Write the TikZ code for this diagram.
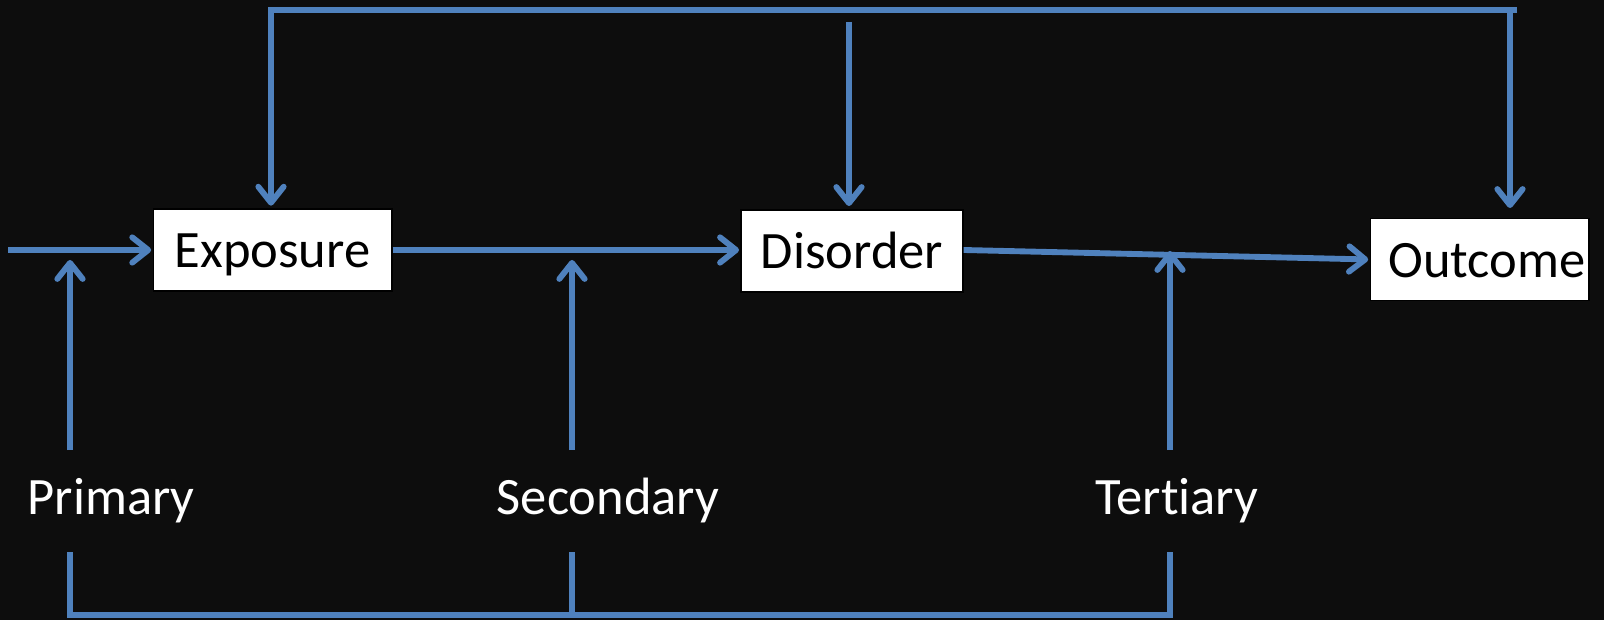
\documentclass[tikz,border=0pt]{standalone}
\usepackage{fontspec}
\setmainfont{Carlito}[Ligatures=NoCommon]
\usetikzlibrary{arrows.meta}
\definecolor{bgdark}{RGB}{13,13,13}
\definecolor{lineblue}{RGB}{79,129,189}
\begin{document}
\begin{tikzpicture}[x=0.75pt,y=-0.75pt,
  conn/.style={draw=lineblue,line width=4.4pt},
  arr/.style={conn,-{Straight Barb[round,length=12pt,width=19pt,line width=4.4pt]}},
  boxnode/.style={draw=black,line width=1pt,fill=white,text=black,inner sep=0pt,
    minimum height=61.5pt,text height=30pt,text depth=3pt,
    font=\fontsize{39.4}{47}\selectfont},
  lbl/.style={text=white,inner sep=0pt,anchor=base,font=\fontsize{39.4}{47}\selectfont}]
\fill[bgdark] (0,0) rectangle (1604,620);
\useasboundingbox (0,0) rectangle (1604,620);

\node[boxnode,minimum width=179pt] (exposure) at (272.5,250) {Exposure};
\node[boxnode,minimum width=166.5pt] (disorder) at (852,251) {Disorder};
\node[boxnode,minimum width=164pt] (outcome) at (1479.5,259.5) {\hspace*{11pt}Outcome};

\node[lbl] (primary) at (111,514) {Primary};
\node[lbl] (secondary) at (608,514) {Secondary};
\node[lbl] (tertiary) at (1177,514) {Tertiary};

% top feedback line
\coordinate (tl) at (271,10);
\coordinate (tr) at (1517,10);
\coordinate (toutv) at (1510,10);
\coordinate (toutend) at (1510,208);
\coordinate (tdis) at (849,22);
\draw[arr,shorten >=2pt] (tr) -- (tl) -- (tl |- exposure.north);
\draw[arr,shorten >=2.5pt] (tdis) -- (tdis |- disorder.north);
\draw[arr] (toutv) -- (toutend);

% main chain
\coordinate (in) at (8,250);
\draw[arr,shorten >=1pt] (in) -- (in -| exposure.west);
\draw[arr,shorten >=1pt] (exposure.east |- 0,250) -- (disorder.west |- 0,250);
\draw[arr,shorten >=1pt] (disorder.east |- 0,250) -- (outcome.west);

% prevention arrows
\coordinate (p0) at (70,450);
\coordinate (p1) at (70,260);
\coordinate (s0) at (572,450);
\coordinate (s1) at (572,260);
\coordinate (r0) at (1170,450);
\coordinate (r1) at (1170,251);
\draw[arr] (p0) -- (p1);
\draw[arr] (s0) -- (s1);
\draw[arr] (r0) -- (r1);

% bottom bracket
\coordinate (pb0) at (70,552);
\coordinate (pb1) at (70,615);
\coordinate (sb0) at (572,552);
\coordinate (sb1) at (572,615);
\coordinate (rb0) at (1170,552);
\coordinate (rb1) at (1170,615);
\draw[conn,line width=3.8pt] (sb0) -- (sb1);
\draw[conn] (pb0) -- (pb1) -- (rb1) -- (rb0);
\end{tikzpicture}
\end{document}
